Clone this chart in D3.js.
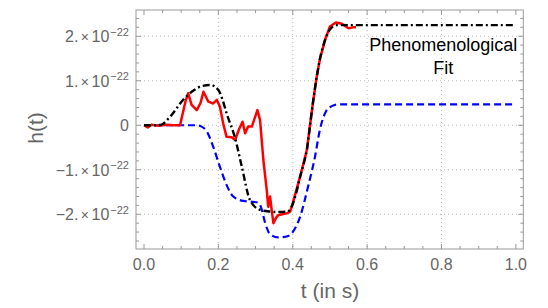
<!DOCTYPE html>
<html>
<head>
<meta charset="utf-8">
<script src="https://cdn.jsdelivr.net/npm/d3@7"></script>
<style>
  body { margin: 0; background: #fff; }
  svg { display: block; font-family: "Liberation Sans", Arial, sans-serif; }
</style>
</head>
<body>
<div id="chart"></div>
<script>
// strain values are in units of 1e-22
const dataT = [0, 0.01, 0.02, 0.04, 0.06, 0.08, 0.097, 0.105, 0.112, 0.119, 0.128, 0.142, 0.152, 0.16, 0.173, 0.186, 0.196, 0.204, 0.213, 0.222, 0.236, 0.245, 0.255, 0.265, 0.272, 0.28, 0.29, 0.305, 0.312, 0.321, 0.33, 0.334, 0.339, 0.343, 0.348, 0.355, 0.361, 0.372, 0.384, 0.393, 0.40, 0.42, 0.438, 0.4465, 0.455, 0.4645, 0.4734, 0.487, 0.5, 0.516, 0.532, 0.55, 0.562, 0.57];
const dataH = [0, -0.05, 0.01, -0.01, 0.01, 0, 0, 0.3, 0.55, 0.72, 0.46, 0.34, 0.5, 0.755, 0.53, 0.49, 0.57, 0.42, 0.04, -0.26, -0.27, -0.33, -0.1, 0.08, -0.18, -0.03, -0.03, 0.34, 0.12, -0.78, -1.45, -1.83, -1.6, -1.88, -2.2, -2.08, -2.02, -2.0, -1.98, -1.94, -1.75, -1.15, -0.55, 0.0, 0.55, 1.09, 1.5, 1.92, 2.22, 2.31, 2.28, 2.18, 2.2, 2.2];

const fitT = [0, 0.03, 0.045, 0.07, 0.106, 0.133, 0.155, 0.178, 0.2, 0.211, 0.222, 0.245, 0.263, 0.285, 0.312, 0.34, 0.36, 0.385, 0.397, 0.41, 0.42, 0.43, 0.438, 0.4465, 0.455, 0.4645, 0.4734, 0.487, 0.5, 0.518, 0.55, 1.0];
const fitH = [0, 0, 0.01, 0.19, 0.58, 0.78, 0.88, 0.905, 0.79, 0.58, 0.27, -0.29, -0.93, -1.68, -1.90, -1.94, -1.95, -1.94, -1.83, -1.5, -1.15, -0.85, -0.55, 0.0, 0.55, 1.09, 1.5, 1.92, 2.15, 2.25, 2.25, 2.25];

const phenT = [0, 0.1, 0.142, 0.155, 0.169, 0.186, 0.204, 0.222, 0.24, 0.267, 0.294, 0.307, 0.315, 0.325, 0.339, 0.361, 0.384, 0.4, 0.42, 0.442, 0.46, 0.473, 0.49, 0.505, 0.523, 0.55, 1.0];
const phenH = [0, 0, 0, -0.03, -0.14, -0.48, -0.93, -1.34, -1.6, -1.7, -1.72, -1.74, -1.85, -2.17, -2.45, -2.52, -2.5, -2.4, -2.05, -1.35, -0.7, -0.1, 0.32, 0.43, 0.47, 0.47, 0.47];

const xTicks = [0, 0.2, 0.4, 0.6, 0.8, 1.0];
const yTicks = [-2, -1, 0, 1, 2];
const labelLines = ["Phenomenological", "Fit"];

const W = 548, H = 308;
const pLeft = 136, pRight = 523.3, pTop = 10, pBottom = 249;

const svg = d3.select("#chart").append("svg")
  .attr("width", W).attr("height", H)
  .attr("viewBox", `0 0 ${W} ${H}`);

const x = d3.scaleLinear().domain([-0.0215, 1.02]).range([pLeft, pRight]);
const y = d3.scaleLinear().domain([-2.78, 2.59]).range([pBottom, pTop]);

const frameCol = "#999", textCol = "#666";

// grid
svg.append("g").selectAll("line")
  .data(xTicks.filter(d => d > 0 && d < 1))
  .join("line")
    .attr("x1", d => x(d)).attr("x2", d => x(d))
    .attr("y1", pTop).attr("y2", pBottom)
    .attr("stroke", "#bbb").attr("stroke-width", 1)
    .attr("stroke-dasharray", "1,3");
svg.append("g").selectAll("line")
  .data(yTicks)
  .join("line")
    .attr("x1", pLeft).attr("x2", pRight)
    .attr("y1", d => y(d)).attr("y2", d => y(d))
    .attr("stroke", "#bbb").attr("stroke-width", 1)
    .attr("stroke-dasharray", "1,3");

// frame ticks (all four sides, inward)
const xMinor = d3.range(0, 1.0001, 0.05);
const yMinor = d3.range(-2.6, 2.41, 0.2);

const ticksG = svg.append("g").attr("stroke", frameCol).attr("stroke-width", 1);
xMinor.forEach(v => {
  const len = Math.abs(v * 5 - Math.round(v * 5)) < 1e-6 ? 5 : 3;
  ticksG.append("line").attr("x1", x(v)).attr("x2", x(v)).attr("y1", pBottom).attr("y2", pBottom - len);
  ticksG.append("line").attr("x1", x(v)).attr("x2", x(v)).attr("y1", pTop).attr("y2", pTop + len);
});
yMinor.forEach(v => {
  const len = Math.abs(v - Math.round(v)) < 1e-6 ? 5 : 3;
  ticksG.append("line").attr("x1", pLeft).attr("x2", pLeft + len).attr("y1", y(v)).attr("y2", y(v));
  ticksG.append("line").attr("x1", pRight).attr("x2", pRight - len).attr("y1", y(v)).attr("y2", y(v));
});

svg.append("rect")
  .attr("x", pLeft).attr("y", pTop)
  .attr("width", pRight - pLeft).attr("height", pBottom - pTop)
  .attr("fill", "none").attr("stroke", frameCol).attr("stroke-width", 1);

// x tick labels
svg.append("g").selectAll("text")
  .data(xTicks)
  .join("text")
    .attr("x", d => x(d)).attr("y", 270)
    .attr("text-anchor", "middle")
    .attr("font-size", 16).attr("fill", textCol)
    .text(d => d.toFixed(1));

// y tick labels, Mathematica style "2. × 10^-22"
const yl = svg.append("g").attr("fill", textCol).attr("font-size", 16);
yTicks.forEach(v => {
  const t = yl.append("text")
    .attr("x", 129).attr("y", y(v) + 5.8)
    .attr("text-anchor", "end");
  if (v === 0) { t.text("0"); return; }
  t.append("tspan").text((v < 0 ? "\u2212" : "") + Math.abs(v) + ".");
  t.append("tspan").attr("dx", 2.5).attr("font-size", 14).text("\u00d7");
  t.append("tspan").attr("dx", 2.5).text("10");
  t.append("tspan").attr("dx", 1).attr("dy", -6.5).attr("font-size", 11).text("\u221222");
});

// axis labels
svg.append("text")
  .attr("x", 330).attr("y", 298)
  .attr("text-anchor", "middle")
  .attr("font-size", 21).attr("fill", textCol)
  .text("t (in s)");
svg.append("text")
  .attr("transform", "translate(43,128) rotate(-90)")
  .attr("text-anchor", "middle")
  .attr("font-size", 21).attr("fill", textCol)
  .text("h(t)");

// curves
svg.append("clipPath").attr("id", "clip")
  .append("rect").attr("x", pLeft).attr("y", pTop)
  .attr("width", pRight - pLeft).attr("height", pBottom - pTop);

const lineSmooth = d3.line().x(d => x(d[0])).y(d => y(d[1])).curve(d3.curveMonotoneX);
const lineRaw = d3.line().x(d => x(d[0])).y(d => y(d[1]));

const plot = svg.append("g").attr("clip-path", "url(#clip)").attr("fill", "none");

plot.append("path")
  .datum(d3.zip(phenT, phenH))
  .attr("d", lineSmooth)
  .attr("stroke", "#0000ff").attr("stroke-width", 2.2)
  .attr("stroke-dasharray", "7,4");

plot.append("path")
  .datum(d3.zip(dataT, dataH))
  .attr("d", lineRaw)
  .attr("stroke", "#ff0000").attr("stroke-width", 2.5)
  .attr("stroke-linejoin", "round");

plot.append("path")
  .datum(d3.zip(fitT, fitH))
  .attr("d", lineSmooth)
  .attr("stroke", "#000").attr("stroke-width", 2.4)
  .attr("stroke-dasharray", "7,3,2,3");

// annotation
svg.append("g").selectAll("text")
  .data(labelLines)
  .join("text")
    .attr("x", 443.3).attr("y", (d, i) => 51 + i * 22.5)
    .attr("text-anchor", "middle")
    .attr("font-size", 18).attr("fill", "#000")
    .text(d => d);
</script>
</body>
</html>
